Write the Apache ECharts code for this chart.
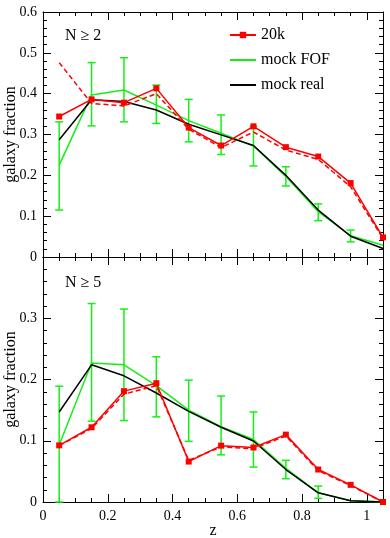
<!DOCTYPE html>
<html>
<head>
<meta charset="utf-8">
<script src="https://cdn.jsdelivr.net/npm/echarts@6/dist/echarts.min.js"></script>
<style>
html,body{margin:0;padding:0;background:#fff;}
#chart{width:390px;height:538px;}
</style>
</head>
<body>
<div id="chart"></div>
<script>
var zs = [0.05,0.15,0.25,0.35,0.45,0.55,0.65,0.75,0.85,0.95,1.05];

// N >= 2
var red20kTop = [0.344,0.386,0.378,0.413,0.317,0.273,0.320,0.269,0.246,0.181,0.048];
var redDashTop = [0.476,0.376,0.370,0.400,0.313,0.268,0.306,0.262,0.239,0.172,0.045];
var fofTop = [0.225,0.397,0.409,0.372,0.334,0.303,0.272,0.197,0.111,0.052,0.029];
var fofTopLo = [0.115,0.321,0.331,0.327,0.282,0.251,0.223,0.174,0.089,0.037];
var fofTopHi = [0.331,0.476,0.488,0.421,0.386,0.348,0.320,0.221,0.130,0.066];
var realTop = [0.287,0.385,0.381,0.360,0.325,0.299,0.273,0.200,0.115,0.051,0.021];

// N >= 5
var red20kBot = [0.0925,0.122,0.181,0.194,0.066,0.092,0.089,0.110,0.053,0.028,0.0];
var redDashBot = [0.092,0.120,0.176,0.190,0.068,0.090,0.087,0.108,0.051,0.027,0.0];
var fofBot = [0.093,0.227,0.224,0.190,0.150,0.123,0.102,0.055,0.015,0.002,0.0];
var fofBotLo = [0.0,0.132,0.133,0.139,0.099,0.077,0.057,0.038,0.006];
var fofBotHi = [0.189,0.324,0.315,0.237,0.199,0.173,0.147,0.068,0.026];
var realBot = [0.147,0.224,0.206,0.178,0.148,0.122,0.0995,0.053,0.015,0.002,0.0];

var xTickLabels = ['0','0.2','0.4','0.6','0.8','1'];
var topTickLabels = ['0','0.1','0.2','0.3','0.4','0.5','0.6'];
var botTickLabels = ['0','0.1','0.2','0.3'];

var FONT = 'Liberation Serif';
var GREEN = '#14f014';
var RED = '#ff0000';

function pairs(ys){
    var out = [];
    for(var i=0;i<ys.length;i++){ out.push([zs[i], ys[i]]); }
    return out;
}
function bars(lo, hi){
    var out = [];
    for(var i=0;i<lo.length;i++){ out.push([zs[i], lo[i], hi[i]]); }
    return out;
}
function pickLabel(list, step){
    return function(v){
        var i = Math.round(v/step);
        if(Math.abs(v - i*step) > 1e-6) return '';
        return list[i] !== undefined ? list[i] : '';
    };
}

function xAx(grid, pos, showLabel, name){
    return {
        type:'value', gridIndex:grid, position:pos, min:0, max:1.05, interval:0.2,
        axisLine:{show:true, onZero:false, lineStyle:{color:'#000', width:1}},
        axisTick:{show:true, inside:true, length:8, lineStyle:{color:'#000'}},
        minorTick:{show:true, splitNumber:4, length:4, lineStyle:{color:'#000'}},
        splitLine:{show:false},
        axisLabel:{show:showLabel, margin:7, color:'#000', fontFamily:FONT, fontSize:14,
            formatter:pickLabel(xTickLabels, 0.2), showMaxLabel:false},
        name:name || '', nameLocation:'middle', nameGap:21, nameMoveOverlap:false,
        nameTextStyle:{color:'#000', fontFamily:FONT, fontSize:16}
    };
}
function yAx(grid, pos, max, labels, showLabel){
    return {
        type:'value', gridIndex:grid, position:pos, min:0, max:max, interval:0.1,
        axisLine:{show:true, onZero:false, lineStyle:{color:'#000', width:1}},
        axisTick:{show:true, inside:true, length:8, lineStyle:{color:'#000'}},
        minorTick:{show:true, splitNumber:5, length:4, lineStyle:{color:'#000'}},
        splitLine:{show:false},
        axisLabel:{show:showLabel, margin:6, color:'#000', fontFamily:FONT, fontSize:14,
            formatter:pickLabel(labels, 0.1)},
        name:showLabel ? 'galaxy fraction' : '', nameLocation:'middle', nameGap:24,
        nameMoveOverlap:false,
        nameTextStyle:{color:'#000', fontFamily:FONT, fontSize:16}
    };
}

function errBars(grid, data){
    return {
        type:'custom', xAxisIndex:grid*2, yAxisIndex:grid*2, z:1,
        data:data, silent:true,
        renderItem:function(params, api){
            var x = api.value(0);
            var lo = api.coord([x, api.value(1)]);
            var hi = api.coord([x, api.value(2)]);
            var w = 4;
            var st = {stroke:GREEN, lineWidth:1.5};
            return {type:'group', children:[
                {type:'line', shape:{x1:lo[0], y1:lo[1], x2:hi[0], y2:hi[1]}, style:st},
                {type:'line', shape:{x1:lo[0]-w, y1:lo[1], x2:lo[0]+w, y2:lo[1]}, style:st},
                {type:'line', shape:{x1:hi[0]-w, y1:hi[1], x2:hi[0]+w, y2:hi[1]}, style:st}
            ]};
        }
    };
}
function lineS(grid, name, ys, color, dashed, marker){
    return {
        name:name, type:'line', xAxisIndex:grid*2, yAxisIndex:grid*2,
        data:pairs(ys), z:dashed ? 3 : (marker ? 4 : 2),
        symbol:marker ? 'rect' : 'none', symbolSize:6, showSymbol:!!marker,
        itemStyle:{color:color},
        lineStyle:{color:color, width:1.5, type:dashed ? [5,3] : 'solid'},
        animation:false
    };
}

var chart = echarts.init(document.getElementById('chart'));
chart.setOption({
    animation:false,
    grid:[
        {left:43, right:7, top:12, height:245, outerBoundsMode:'none', containLabel:false},
        {left:43, right:7, top:257, height:245, outerBoundsMode:'none', containLabel:false}
    ],
    xAxis:[
        xAx(0,'bottom',false), xAx(0,'top',false),
        xAx(1,'bottom',true,'z'), xAx(1,'top',false)
    ],
    yAxis:[
        yAx(0,'left',0.6,topTickLabels,true), yAx(0,'right',0.6,topTickLabels,false),
        yAx(1,'left',0.4,botTickLabels,true), yAx(1,'right',0.4,botTickLabels,false)
    ],
    legend:{
        orient:'vertical', left:229, top:27, itemWidth:26, itemHeight:8, itemGap:9,
        padding:0,
        data:[
            {name:'20k'},
            {name:'mock FOF', itemStyle:{opacity:0}},
            {name:'mock real', itemStyle:{opacity:0}}
        ],
        textStyle:{color:'#000', fontFamily:FONT, fontSize:16}
    },
    graphic:[
        {type:'text', left:65, top:28, style:{text:'N ≥ 2', fill:'#000', font:'16px "Liberation Serif"'}},
        {type:'text', left:65, top:275, style:{text:'N ≥ 5', fill:'#000', font:'16px "Liberation Serif"'}}
    ],
    series:[
        errBars(0, bars(fofTopLo, fofTopHi)),
        lineS(0,'mock FOF',fofTop,GREEN,false,false),
        lineS(0,'mock real',realTop,'#000',false,false),
        lineS(0,'20k dashed',redDashTop,RED,true,false),
        lineS(0,'20k',red20kTop,RED,false,true),
        errBars(1, bars(fofBotLo, fofBotHi)),
        lineS(1,'mock FOF',fofBot,GREEN,false,false),
        lineS(1,'mock real',realBot,'#000',false,false),
        lineS(1,'20k dashed',redDashBot,RED,true,false),
        lineS(1,'20k',red20kBot,RED,false,true)
    ]
});
</script>
</body>
</html>
